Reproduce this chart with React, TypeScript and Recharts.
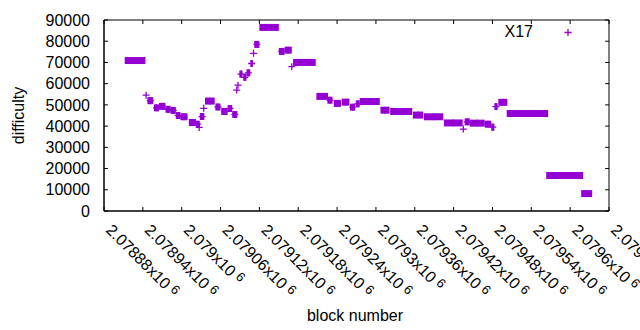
import React from 'react';
import { ScatterChart, Scatter, XAxis, YAxis, ErrorBar, ReferenceArea, ReferenceLine } from 'recharts';

// each run = consecutive blocks that share (roughly) the same difficulty
const runStart = [
  2078912, 2078945, 2078947, 2078957, 2078965, 2078975, 2078983, 2078991, 2078998, 2079011,
  2079022, 2079027, 2079028, 2079034, 2079036, 2079052, 2079061, 2079071, 2079078, 2079085,
  2079087, 2079089, 2079095, 2079100, 2079106, 2079111, 2079112, 2079120, 2079150, 2079159,
  2079170, 2079172, 2079208, 2079225, 2079235, 2079247, 2079260, 2079269, 2079275, 2079307,
  2079322, 2079357, 2079374, 2079405, 2079435, 2079437, 2079445, 2079468, 2079478, 2079483,
  2079489, 2079502, 2079563, 2079617,
];
const runEnd = [
  2078944, 2078945, 2078956, 2078965, 2078975, 2078983, 2078991, 2078998, 2079009, 2079022,
  2079028, 2079027, 2079035, 2079034, 2079051, 2079060, 2079071, 2079078, 2079086, 2079085,
  2079087, 2079094, 2079100, 2079106, 2079110, 2079111, 2079120, 2079150, 2079159, 2079170,
  2079170, 2079207, 2079226, 2079233, 2079246, 2079259, 2079268, 2079275, 2079306, 2079321,
  2079356, 2079373, 2079404, 2079434, 2079435, 2079445, 2079468, 2079478, 2079483, 2079488,
  2079503, 2079566, 2079620, 2079634,
];
const runDifficulty = [
  70900, 54600, 52000, 48600, 49300, 47900, 47400, 45000, 44400, 41700,
  40900, 39400, 44500, 48400, 51800, 49000, 46900, 48300, 45500, 57000,
  59300, 64500, 63000, 65100, 69500, 74300, 78500, 86500, 75200, 75800,
  68000, 70000, 54000, 52200, 50700, 51300, 48900, 50500, 51600, 47500,
  46900, 45200, 44400, 41500, 38600, 42000, 41400, 40900, 39500, 49200,
  51200, 46000, 16700, 8200,
];

const xTicks = [
  2078880, 2078940, 2079000, 2079060, 2079120, 2079180, 2079240,
  2079300, 2079360, 2079420, 2079480, 2079540, 2079600, 2079660,
];
const yTicks = [0, 10000, 20000, 30000, 40000, 50000, 60000, 70000, 80000, 90000];

const SERIES_NAME = 'X17';
const X_TITLE = 'block number';
const Y_TITLE = 'difficulty';

const X_MIN = 2078880;
const X_MAX = 2079660;
const Y_MAX = 90000;

const COLOR = '#9400d3';
const FONT = '"Liberation Sans", Arial, Helvetica, sans-serif';
// mirrored (top / right) tick length, in data units (~4px)
const TICK_LEN_X = 6;
const TICK_LEN_Y = 1900;

const data = runStart.map((s, i) => ({
  block: (s + runEnd[i]) / 2,
  halfSpan: (runEnd[i] - s) / 2,
  difficulty: runDifficulty[i],
}));

const formatBlock = (v: number) => {
  const s = String(v);
  return `${s[0]}.${s.slice(1).replace(/0+$/, '')}`;
};

const XTick = (props: any) => {
  const { x, y, payload } = props;
  const tx = x + 1;
  const ty = y + 24;
  return (
    <text x={tx} y={ty} transform={`rotate(45 ${tx} ${ty})`} fontSize={16} fill="#000" fontFamily={FONT}>
      {formatBlock(payload.value)}x10
      <tspan dx={4} dy={-4} fontSize={13}>6</tspan>
    </text>
  );
};

// gnuplot style "+" marker
const Plus = (props: any) => {
  const { cx, cy } = props;
  return (
    <path
      d={`M${cx - 3.5},${cy}H${cx + 3.5}M${cx},${cy - 3.5}V${cy + 3.5}`}
      stroke={COLOR}
      strokeWidth={1.3}
      fill="none"
    />
  );
};

export default function App() {
  return (
    <div style={{ position: 'absolute', left: 0, top: 0, width: 640, height: 330, background: '#fff', fontFamily: FONT }}>
      <ScatterChart width={640} height={330} margin={{ top: 20, right: 31, bottom: 0, left: 0 }}>
        <ReferenceArea
          x1={X_MIN}
          x2={X_MAX}
          y1={0}
          y2={Y_MAX}
          fill="none"
          stroke="#000"
          strokeWidth={1}
          ifOverflow="visible"
        />
        {xTicks.map((t) => (
          <ReferenceLine
            key={`tx${t}`}
            segment={[{ x: t, y: Y_MAX }, { x: t, y: Y_MAX - TICK_LEN_Y }]}
            stroke="#000"
            strokeWidth={1}
            ifOverflow="visible"
          />
        ))}
        {yTicks.map((t) => (
          <ReferenceLine
            key={`ty${t}`}
            segment={[{ x: X_MAX, y: t }, { x: X_MAX - TICK_LEN_X, y: t }]}
            stroke="#000"
            strokeWidth={1}
            ifOverflow="visible"
          />
        ))}
        <XAxis
          type="number"
          dataKey="block"
          domain={[X_MIN, X_MAX]}
          ticks={xTicks}
          interval={0}
          height={119}
          tickSize={-4}
          tickMargin={0}
          tick={<XTick />}
          stroke="#000"
        />
        <YAxis
          type="number"
          dataKey="difficulty"
          domain={[0, Y_MAX]}
          ticks={yTicks}
          interval={0}
          width={104}
          tickSize={-4}
          tickMargin={18}
          tick={{ fill: '#000', fontSize: 16, fontFamily: FONT }}
          stroke="#000"
        />
        <Scatter name={SERIES_NAME} data={data} fill={COLOR} shape={<Plus />} isAnimationActive={false}>
          <ErrorBar dataKey="halfSpan" direction="x" width={0} strokeWidth={7} stroke={COLOR} isAnimationActive={false} />
        </Scatter>
      </ScatterChart>
      {/* axis titles and key */}
      <svg width={640} height={330} style={{ position: 'absolute', left: 0, top: 0, pointerEvents: 'none' }}>
        <text x={355} y={321} textAnchor="middle" fontSize={16} fill="#000" fontFamily={FONT}>
          {X_TITLE}
        </text>
        <text
          x={18}
          y={115.5}
          transform="rotate(-90 18 115.5)"
          textAnchor="middle"
          dominantBaseline="central"
          fontSize={16}
          fill="#000"
          fontFamily={FONT}
        >
          {Y_TITLE}
        </text>
        <text x={533} y={37} textAnchor="end" fontSize={16} fill="#000" fontFamily={FONT}>
          {SERIES_NAME}
        </text>
        <path d="M564.5,32.5h7M568,29v7" stroke={COLOR} strokeWidth={1.3} fill="none" />
      </svg>
    </div>
  );
}
